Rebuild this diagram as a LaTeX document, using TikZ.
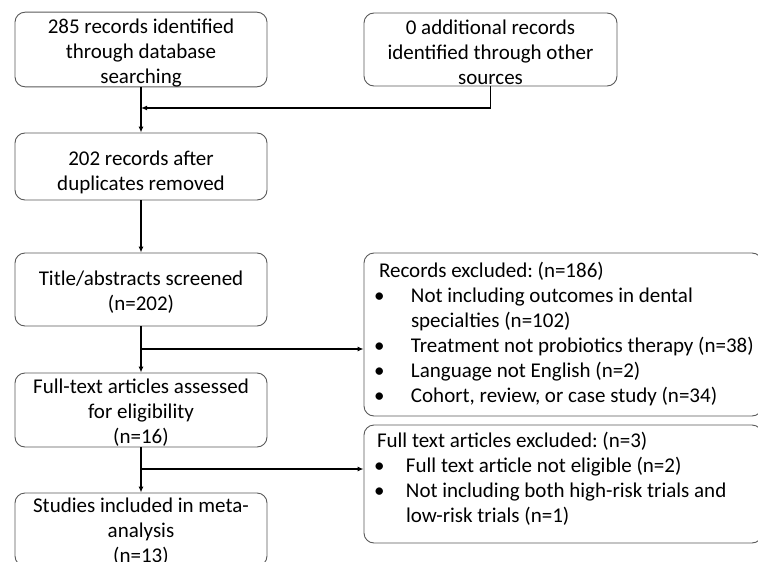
\documentclass[tikz,border=0pt]{standalone}
\usepackage{fontspec}
\setmainfont{Carlito}
\usepackage{tikz}
\usetikzlibrary{arrows.meta}
\newcommand{\bul}[1][32pt]{\makebox[#1][l]{\hspace*{-5pt}\textbullet}}
\newcommand{\tstrut}[1]{\rule{0pt}{#1}}

\begin{document}
\frenchspacing
\begin{tikzpicture}[x=1pt,y=-1pt,
  box/.style={draw=black!65, line width=0.9pt, rounded corners=10pt,
    inner sep=0pt, align=flush center, minimum width=252pt},
  sidebox/.style={draw=black!65, line width=0.9pt, rounded corners=10pt,
    inner xsep=15pt, inner ysep=0pt, align=flush left, text width=368pt},
  flow/.style={-{Latex[length=6pt,width=5pt]}, line width=1.4pt}]
  \useasboundingbox (0,0) rectangle (758,562);
  \clip (0,0) rectangle (758,562);
  \fontsize{21}{25}\selectfont
  \node[box, minimum height=73pt] (ident) at (141,49.5)
    {\tstrut{21pt}285 records identified\\through database\\searching};
  \node[box, minimum width=253pt, minimum height=73pt] (other) at (490.5,49.5)
    {\tstrut{21pt}0 additional records\\identified through other\\sources};
  \node[box, minimum height=67pt] (dupl) at (141,166.5)
    {\tstrut{27pt}202 records after\\duplicates removed};
  \node[box, minimum height=73pt] (screen) at (141,289.5)
    {\tstrut{19pt}Title/abstracts screened\\(n=202)};
  \node[box, minimum height=74pt] (full) at (141,410)
    {\tstrut{19pt}Full-text articles assessed\\for eligibility\\(n=16)};
  \node[box, minimum height=73pt] (incl) at (141,529.5)
    {\tstrut{19pt}Studies included in meta-\\analysis\\(n=13)};
  \node[sidebox, minimum height=163pt] (excl) at (563,334.5)
    {Records excluded: (n=186)\\
     \bul Not including outcomes in dental\\
     \hspace*{32pt}specialties (n=102)\\
     \bul \mbox{Treatment not probiotics therapy (n=38)}\\
     \bul Language not English (n=2)\\
     \bul Cohort, review, or case study (n=34)};
  \node[sidebox, minimum height=118pt] (fexcl) at (563,484)
    {\hspace*{-2pt}Full text articles excluded: (n=3)\\
     \bul[27pt]Full text article not eligible (n=2)\\
     \bul[27pt]Not including both high-risk trials and\\
     \hspace*{27pt}low-risk trials (n=1)\\[-12pt]\mbox{}};
  \coordinate (join) at (141,108);
  \coordinate (br1) at (141,349);
  \coordinate (br2) at (141,469);
  \draw[flow] (ident.south) -- (dupl.north);
  \draw[flow] (other.south) |- (join);
  \draw[flow] (dupl.south) -- (screen.north);
  \draw[flow] (screen.south) -- (full.north);
  \draw[flow] (br1) -- (excl.west |- br1);
  \draw[flow] (full.south) -- (incl.north);
  \draw[flow] (br2) -- (fexcl.west |- br2);
\end{tikzpicture}
\end{document}
